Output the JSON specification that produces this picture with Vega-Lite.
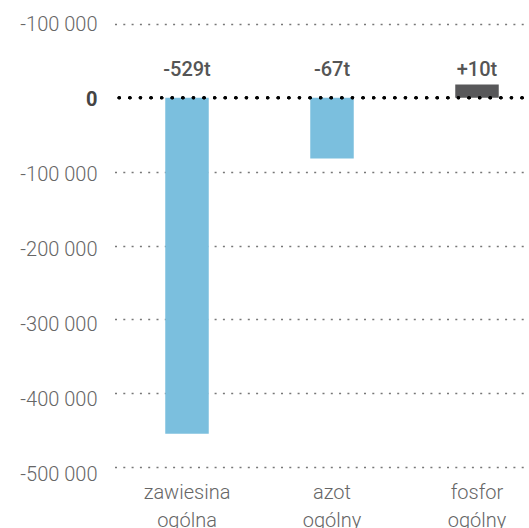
{
  "$schema": "https://vega.github.io/schema/vega-lite/v6.json",
  "autosize": {"type": "none"},
  "width": 410,
  "height": 443,
  "padding": {"left": 119, "top": 24, "right": 0, "bottom": 61},
  "background": "white",
  "config": {"view": {"stroke": null}, "font": "Roboto"},
  "data": {"values": [
    {"category": "zawiesina ogólna", "value": -455000, "label": "-529t", "kind": "neg"},
    {"category": "azot ogólny", "value": -82000, "label": "-67t", "kind": "neg"},
    {"category": "fosfor ogólny", "value": 18000, "label": "+10t", "kind": "pos"}
  ]},
  "encoding": {
    "x": {
      "field": "category", "type": "nominal", "sort": null,
      "scale": {"range": [-4.5, 430.5], "paddingInner": 0.7, "paddingOuter": 0.35},
      "axis": {
        "title": null, "domain": false, "ticks": false, "labelAngle": 0,
        "labelExpr": "split(datum.label, ' ')",
        "labelFontSize": 20, "labelFontWeight": 300, "labelColor": "#666666",
        "labelPadding": 15, "labelLineHeight": 28, "labelBaseline": "top"
      }
    }
  },
  "layer": [
    {
      "mark": {"type": "bar"},
      "encoding": {
        "y": {
          "field": "value", "type": "quantitative",
          "scale": {"domain": [-500000, 100000], "nice": false, "zero": true},
          "axis": {
            "title": null, "domain": false, "ticks": false,
            "values": [100000, 0, -100000, -200000, -300000, -400000, -500000],
            "labelExpr": "datum.value == 0 ? '0' : '-' + replace(format(abs(datum.value), ','), ',', ' ')",
            "labelFontSize": 20,
            "labelFontWeight": {"condition": {"test": "datum.value == 0", "value": "bold"}, "value": 300},
            "labelColor": {"condition": {"test": "datum.value == 0", "value": "#444444"}, "value": "#666666"},
            "labelOffset": {"condition": [
              {"test": "datum.value == 100000", "value": 0},
              {"test": "datum.value == 0", "value": 2},
              {"test": "datum.value == -100000", "value": 3},
              {"test": "datum.value == -200000", "value": 4},
              {"test": "datum.value == -300000", "value": 5},
              {"test": "datum.value == -400000", "value": 6}
            ], "value": 7},
            "labelPadding": 22,
            "grid": true, "gridColor": {"condition": {"test": "datum.value == 0", "value": "transparent"}, "value": "#777777"},
            "gridDash": [2, 6.3], "gridWidth": 1.5
          }
        },
        "color": {
          "field": "kind", "type": "nominal", "legend": null,
          "scale": {"domain": ["neg", "pos"], "range": ["#7BBFDE", "#58585A"]}
        }
      }
    },
    {
      "mark": {"type": "text", "fontSize": 20, "fontWeight": 500, "color": "#555555", "baseline": "middle"},
      "encoding": {
        "y": {"datum": 38000, "type": "quantitative"},
        "text": {"field": "label"}
      }
    },
    {
      "mark": {"type": "rule", "color": "#000000", "strokeWidth": 3, "strokeDash": [0.5, 10.1], "strokeCap": "round"},
      "encoding": {
        "y": {"datum": 0, "type": "quantitative"},
        "x": {"value": 0},
        "x2": {"value": 410}
      }
    }
  ]
}
